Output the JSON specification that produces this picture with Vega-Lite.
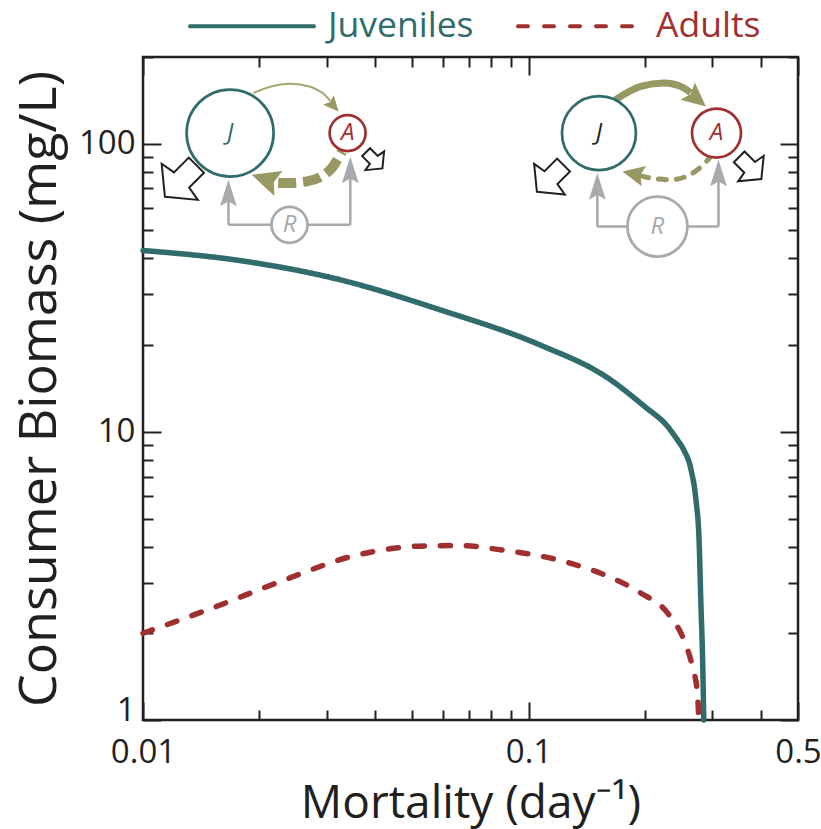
{
  "$schema": "https://vega.github.io/schema/vega-lite/v6.json",
  "width": 655,
  "height": 663,
  "autosize": {"type": "none"},
  "padding": {"left": 143, "top": 57, "right": 23, "bottom": 109},
  "config": {
    "view": {"stroke": "#231f20", "strokeWidth": 2.5},
    "font": "Open Sans",
    "axis": {"domain": false, "grid": false, "tickColor": "#231f20", "tickWidth": 2, "labelFont": "Open Sans", "labelFontSize": 33, "labelColor": "#231f20", "titleFont": "Open Sans", "titleFontWeight": "normal", "titleColor": "#231f20", "labelOverlap": false}
  },
  "datasets": {
    "curves": [
      {"mortality": 0.01, "biomass": 42.6, "stage": "Juveniles"},
      {"mortality": 0.01786, "biomass": 39.3, "stage": "Juveniles"},
      {"mortality": 0.0325, "biomass": 33.7, "stage": "Juveniles"},
      {"mortality": 0.0591, "biomass": 26.5, "stage": "Juveniles"},
      {"mortality": 0.1074, "biomass": 20.0, "stage": "Juveniles"},
      {"mortality": 0.1604, "biomass": 15.4, "stage": "Juveniles"},
      {"mortality": 0.2, "biomass": 12.25, "stage": "Juveniles"},
      {"mortality": 0.2296, "biomass": 10.43, "stage": "Juveniles"},
      {"mortality": 0.2433, "biomass": 9.38, "stage": "Juveniles"},
      {"mortality": 0.2527, "biomass": 8.66, "stage": "Juveniles"},
      {"mortality": 0.264, "biomass": 7.38, "stage": "Juveniles"},
      {"mortality": 0.2718, "biomass": 5.81, "stage": "Juveniles"},
      {"mortality": 0.2769, "biomass": 4.22, "stage": "Juveniles"},
      {"mortality": 0.2798, "biomass": 2.61, "stage": "Juveniles"},
      {"mortality": 0.2831, "biomass": 1.53, "stage": "Juveniles"},
      {"mortality": 0.2848, "biomass": 1.0, "stage": "Juveniles"},
      {"mortality": 0.01, "biomass": 2.0, "stage": "Adults"},
      {"mortality": 0.01505, "biomass": 2.44, "stage": "Adults"},
      {"mortality": 0.02308, "biomass": 3.05, "stage": "Adults"},
      {"mortality": 0.03539, "biomass": 3.72, "stage": "Adults"},
      {"mortality": 0.05424, "biomass": 4.02, "stage": "Adults"},
      {"mortality": 0.06714, "biomass": 4.03, "stage": "Adults"},
      {"mortality": 0.0831, "biomass": 3.91, "stage": "Adults"},
      {"mortality": 0.1275, "biomass": 3.51, "stage": "Adults"},
      {"mortality": 0.1538, "biomass": 3.23, "stage": "Adults"},
      {"mortality": 0.1954, "biomass": 2.76, "stage": "Adults"},
      {"mortality": 0.2296, "biomass": 2.35, "stage": "Adults"},
      {"mortality": 0.2527, "biomass": 1.9, "stage": "Adults"},
      {"mortality": 0.2662, "biomass": 1.53, "stage": "Adults"},
      {"mortality": 0.2742, "biomass": 1.24, "stage": "Adults"},
      {"mortality": 0.2765, "biomass": 1.0, "stage": "Adults"}
    ],
    "nodes": [
      {"node": "J1", "m": 0.016825, "b": 108.9, "label": "J"},
      {"node": "A1", "m": 0.033939, "b": 108.9, "label": "A"},
      {"node": "R1", "m": 0.023988, "b": 52.3, "label": "R"},
      {"node": "J2", "m": 0.15229, "b": 108.9, "label": "J"},
      {"node": "A2", "m": 0.30729, "b": 108.9, "label": "A"},
      {"node": "R2", "m": 0.21596, "b": 51.6, "label": "R"}
    ],
    "links": [
      {"m": 0.016655, "m2": 0.016655, "b": 52.3, "b2": 67.1},
      {"m": 0.016655, "m2": 0.034492, "b": 52.3, "b2": 52.3},
      {"m": 0.034492, "m2": 0.034492, "b": 52.3, "b2": 80.6},
      {"m": 0.15084, "m2": 0.15084, "b": 51.6, "b2": 70.7},
      {"m": 0.15084, "m2": 0.311, "b": 51.6, "b2": 51.6},
      {"m": 0.311, "m2": 0.311, "b": 51.6, "b2": 78.7}
    ],
    "grayheads": [
      {"m": 0.016655, "b": 67.1},
      {"m": 0.034492, "b": 80.6},
      {"m": 0.15084, "b": 70.7},
      {"m": 0.311, "b": 78.7}
    ],
    "arcs": [
      {"arc": "L1top", "m": 0.019343, "b": 150.0},
      {"arc": "L1top", "m": 0.021373, "b": 157.7},
      {"arc": "L1top", "m": 0.024089, "b": 161.6},
      {"arc": "L1top", "m": 0.027153, "b": 157.7},
      {"arc": "L1top", "m": 0.02917, "b": 150.3},
      {"arc": "L1top", "m": 0.030602, "b": 141.0},
      {"arc": "L1bot", "m": 0.02242, "b": 73.2},
      {"arc": "L1bot", "m": 0.023619, "b": 73.0},
      {"arc": "L1bot", "m": 0.026621, "b": 74.0},
      {"arc": "L1bot", "m": 0.030602, "b": 81.2},
      {"arc": "L1bot", "m": 0.032821, "b": 94.0},
      {"arc": "R2top", "m": 0.16825, "b": 142.2},
      {"arc": "R2top", "m": 0.19542, "b": 158.1},
      {"arc": "R2top", "m": 0.22465, "b": 162.5},
      {"arc": "R2top", "m": 0.25317, "b": 156.1},
      {"arc": "R2top", "m": 0.2635, "b": 150.3},
      {"arc": "R2bot", "m": 0.19542, "b": 77.4},
      {"arc": "R2bot", "m": 0.20747, "b": 76.0},
      {"arc": "R2bot", "m": 0.23383, "b": 75.0},
      {"arc": "R2bot", "m": 0.27429, "b": 81.2},
      {"arc": "R2bot", "m": 0.297, "b": 90.3}
    ],
    "heads": [
      {"head": "L1top", "m": 0.031026, "b": 136.6},
      {"head": "L1bot", "m": 0.021031, "b": 74.9},
      {"head": "R2top", "m": 0.27055, "b": 144.7},
      {"head": "R2bot", "m": 0.18897, "b": 78.4}
    ],
    "outflows": [
      {"node": "J1", "m": 0.012522, "b": 74.3},
      {"node": "A1", "m": 0.0398, "b": 87.6},
      {"node": "J2", "m": 0.11384, "b": 75.8},
      {"node": "A2", "m": 0.376, "b": 82.4}
    ]
  },
  "resolve": {"axis": {"x": "independent", "y": "independent"}},
  "layer": [
    {
      "data": {"name": "curves"},
      "mark": {"type": "line", "strokeWidth": 5.5, "strokeCap": "round", "interpolate": "monotone"},
      "encoding": {
        "x": {
          "field": "mortality", "type": "quantitative",
          "scale": {"type": "log", "domain": [0.01, 0.5], "nice": false},
          "axis": {
            "orient": "bottom",
            "values": [0.01, 0.1, 0.5],
            "labelExpr": "format(datum.value, '~g')",
            "labelFontSize": 33,
            "ticks": false,
            "tickSize": 0,
            "labelPadding": 16,
            "labelFlush": false,
            "title": "Mortality (day⁻¹)",
            "titleFontSize": 46,
            "titlePadding": 12
          }
        },
        "y": {
          "field": "biomass", "type": "quantitative",
          "scale": {"type": "log", "domain": [1, 200], "nice": false},
          "axis": {
            "orient": "left",
            "values": [1, 10, 100],
            "labelExpr": "format(datum.value, '~g')",
            "labelFontSize": 33,
            "ticks": false,
            "tickSize": 0,
            "labelBaseline": {"condition": {"test": "datum.value == 1", "value": "alphabetic"}, "value": "middle"},
            "labelPadding": 8,
            "labelFlush": false,
            "title": "Consumer Biomass (mg/L)",
            "titleFontSize": 52,
            "titlePadding": 12
          }
        },
        "color": {
          "field": "stage", "type": "nominal",
          "scale": {"domain": ["Juveniles", "Adults"], "range": ["#2f6c6b", "#a0302f"]},
          "legend": {
            "orient": "none", "legendX": 45, "legendY": -95, "direction": "horizontal", "title": null,
            "symbolType": "stroke", "symbolSize": 15376, "symbolStrokeWidth": 4,
            "labelFont": "Open Sans", "labelFontSize": 35.5, "labelOffset": 12, "columnPadding": 36, "padding": 0,
            "encode": {
              "labels": {"update": {"fill": {"signal": "datum.value === 'Juveniles' ? '#2f6c6b' : '#a0302f'"}}},
              "symbols": {"update": {"strokeCap": {"value": "round"}}}
            }
          }
        },
        "strokeDash": {
          "field": "stage", "type": "nominal",
          "scale": {"domain": ["Juveniles", "Adults"], "range": [[1, 0], [10, 16]]}
        }
      }
    },
    {
      "data": {"name": "links"},
      "mark": {"type": "rule", "color": "#a7a9ac", "strokeWidth": 2.5},
      "encoding": {
        "x": {
          "field": "m", "type": "quantitative",
          "axis": {
            "orient": "bottom",
            "values": [0.01, 0.02, 0.03, 0.04, 0.05, 0.06, 0.07, 0.08, 0.09, 0.1, 0.2, 0.3, 0.4, 0.5],
            "labels": false, "title": null,
            "tickSize": {"condition": {"test": "datum.value == 0.1 || datum.value == 0.01 || datum.value == 0.5", "value": -18}, "value": -10}
          }
        },
        "x2": {"field": "m2"},
        "y": {
          "field": "b", "type": "quantitative",
          "axis": {
            "orient": "left",
            "values": [1, 2, 3, 4, 5, 6, 7, 8, 9, 10, 20, 30, 40, 50, 60, 70, 80, 90, 100, 200],
            "labels": false, "title": null,
            "tickSize": {"condition": {"test": "datum.value == 1 || datum.value == 10 || datum.value == 100", "value": -18}, "value": -10}
          }
        },
        "y2": {"field": "b2"}
      }
    },
    {
      "data": {"name": "grayheads"},
      "mark": {"type": "point", "shape": "M0,-1 L0.6,0.9 L0,0.55 L-0.6,0.9 Z", "filled": true, "color": "#a7a9ac", "opacity": 1, "size": 784},
      "encoding": {
        "x": {"field": "m", "type": "quantitative", "axis": null},
        "y": {"field": "b", "type": "quantitative", "axis": null}
      }
    },
    {
      "data": {"name": "arcs"},
      "transform": [{"filter": "datum.arc == 'L1top'"}],
      "mark": {"type": "line", "color": "#a5a56e", "strokeWidth": 2, "interpolate": "monotone"},
      "encoding": {
        "x": {"field": "m", "type": "quantitative", "axis": null},
        "y": {"field": "b", "type": "quantitative", "axis": null}
      }
    },
    {
      "data": {"name": "arcs"},
      "transform": [{"filter": "datum.arc == 'L1bot'"}],
      "mark": {"type": "line", "color": "#979862", "strokeWidth": 10, "strokeDash": [18, 7], "interpolate": "monotone"},
      "encoding": {
        "x": {"field": "m", "type": "quantitative", "axis": null},
        "y": {"field": "b", "type": "quantitative", "axis": null}
      }
    },
    {
      "data": {"name": "arcs"},
      "transform": [{"filter": "datum.arc == 'R2top'"}],
      "mark": {"type": "line", "color": "#979862", "strokeWidth": 7, "interpolate": "monotone"},
      "encoding": {
        "x": {"field": "m", "type": "quantitative", "axis": null},
        "y": {"field": "b", "type": "quantitative", "axis": null}
      }
    },
    {
      "data": {"name": "arcs"},
      "transform": [{"filter": "datum.arc == 'R2bot'"}],
      "mark": {"type": "line", "color": "#979862", "strokeWidth": 5, "strokeDash": [8, 10], "strokeCap": "round", "interpolate": "monotone"},
      "encoding": {
        "x": {"field": "m", "type": "quantitative", "axis": null},
        "y": {"field": "b", "type": "quantitative", "axis": null}
      }
    },
    {
      "data": {"name": "heads"},
      "mark": {"type": "point", "shape": "M0,-1 L0.8,0.7 L0,0.4 L-0.8,0.7 Z", "filled": true, "color": "#979862", "opacity": 1},
      "encoding": {
        "x": {"field": "m", "type": "quantitative", "axis": null},
        "y": {"field": "b", "type": "quantitative", "axis": null},
        "angle": {"condition": [
          {"test": "datum.head == 'L1top'", "value": 138},
          {"test": "datum.head == 'L1bot'", "value": 288},
          {"test": "datum.head == 'R2top'", "value": 130}
        ], "value": 282},
        "size": {"condition": [
          {"test": "datum.head == 'L1top'", "value": 324},
          {"test": "datum.head == 'L1bot'", "value": 1089},
          {"test": "datum.head == 'R2top'", "value": 784}
        ], "value": 676}
      }
    },
    {
      "data": {"name": "outflows"},
      "mark": {"type": "point", "shape": "M0.87,0 L0.05,-1 L-0.05,-0.42 L-0.87,-0.42 L-0.87,0.42 L-0.05,0.42 L0.05,1 Z", "filled": true, "fill": "white", "stroke": "#231f20", "strokeWidth": 2, "strokeJoin": "miter", "opacity": 1},
      "encoding": {
        "x": {"field": "m", "type": "quantitative", "axis": null},
        "y": {"field": "b", "type": "quantitative", "axis": null},
        "angle": {"condition": {"test": "datum.node == 'J1' || datum.node == 'J2'", "value": 135}, "value": 45},
        "size": {"condition": [
          {"test": "datum.node == 'J1'", "value": 2620},
          {"test": "datum.node == 'A1'", "value": 700},
          {"test": "datum.node == 'J2'", "value": 1880}
        ], "value": 1300}
      }
    },
    {
      "data": {"name": "nodes"},
      "mark": {"type": "point", "shape": "circle", "filled": true, "fill": "white", "strokeWidth": 2.7, "opacity": 1},
      "encoding": {
        "x": {
          "field": "m", "type": "quantitative",
          "axis": {
            "orient": "top",
            "values": [0.01, 0.02, 0.03, 0.04, 0.05, 0.06, 0.07, 0.08, 0.09, 0.1, 0.2, 0.3, 0.4, 0.5],
            "labels": false, "title": null,
            "tickSize": {"condition": {"test": "datum.value == 0.1 || datum.value == 0.01 || datum.value == 0.5", "value": -18}, "value": -10}
          }
        },
        "y": {
          "field": "b", "type": "quantitative",
          "axis": {
            "orient": "right",
            "values": [1, 2, 3, 4, 5, 6, 7, 8, 9, 10, 20, 30, 40, 50, 60, 70, 80, 90, 100, 200],
            "labels": false, "title": null,
            "tickSize": {"condition": {"test": "datum.value == 1 || datum.value == 10 || datum.value == 100", "value": -18}, "value": -10}
          }
        },
        "stroke": {"condition": [
          {"test": "datum.label == 'J'", "value": "#2f6c6b"},
          {"test": "datum.label == 'A'", "value": "#a0302f"}
        ], "value": "#a7a9ac"},
        "size": {"condition": [
          {"test": "datum.node == 'J1'", "value": 7569},
          {"test": "datum.node == 'A1'", "value": 1296},
          {"test": "datum.node == 'R1'", "value": 1296},
          {"test": "datum.node == 'J2'", "value": 5476},
          {"test": "datum.node == 'A2'", "value": 2401}
        ], "value": 3600}
      }
    },
    {
      "data": {"name": "nodes"},
      "mark": {"type": "text", "font": "Open Sans", "fontStyle": "italic", "fontSize": 24, "baseline": "middle", "align": "center"},
      "encoding": {
        "x": {"field": "m", "type": "quantitative", "axis": null},
        "y": {"field": "b", "type": "quantitative", "axis": null},
        "text": {"field": "label"},
        "color": {"condition": [
          {"test": "datum.node == 'J1'", "value": "#2f6c6b"},
          {"test": "datum.node == 'J2'", "value": "#231f20"},
          {"test": "datum.label == 'A'", "value": "#a0302f"}
        ], "value": "#a7a9ac"}
      }
    }
  ]
}
